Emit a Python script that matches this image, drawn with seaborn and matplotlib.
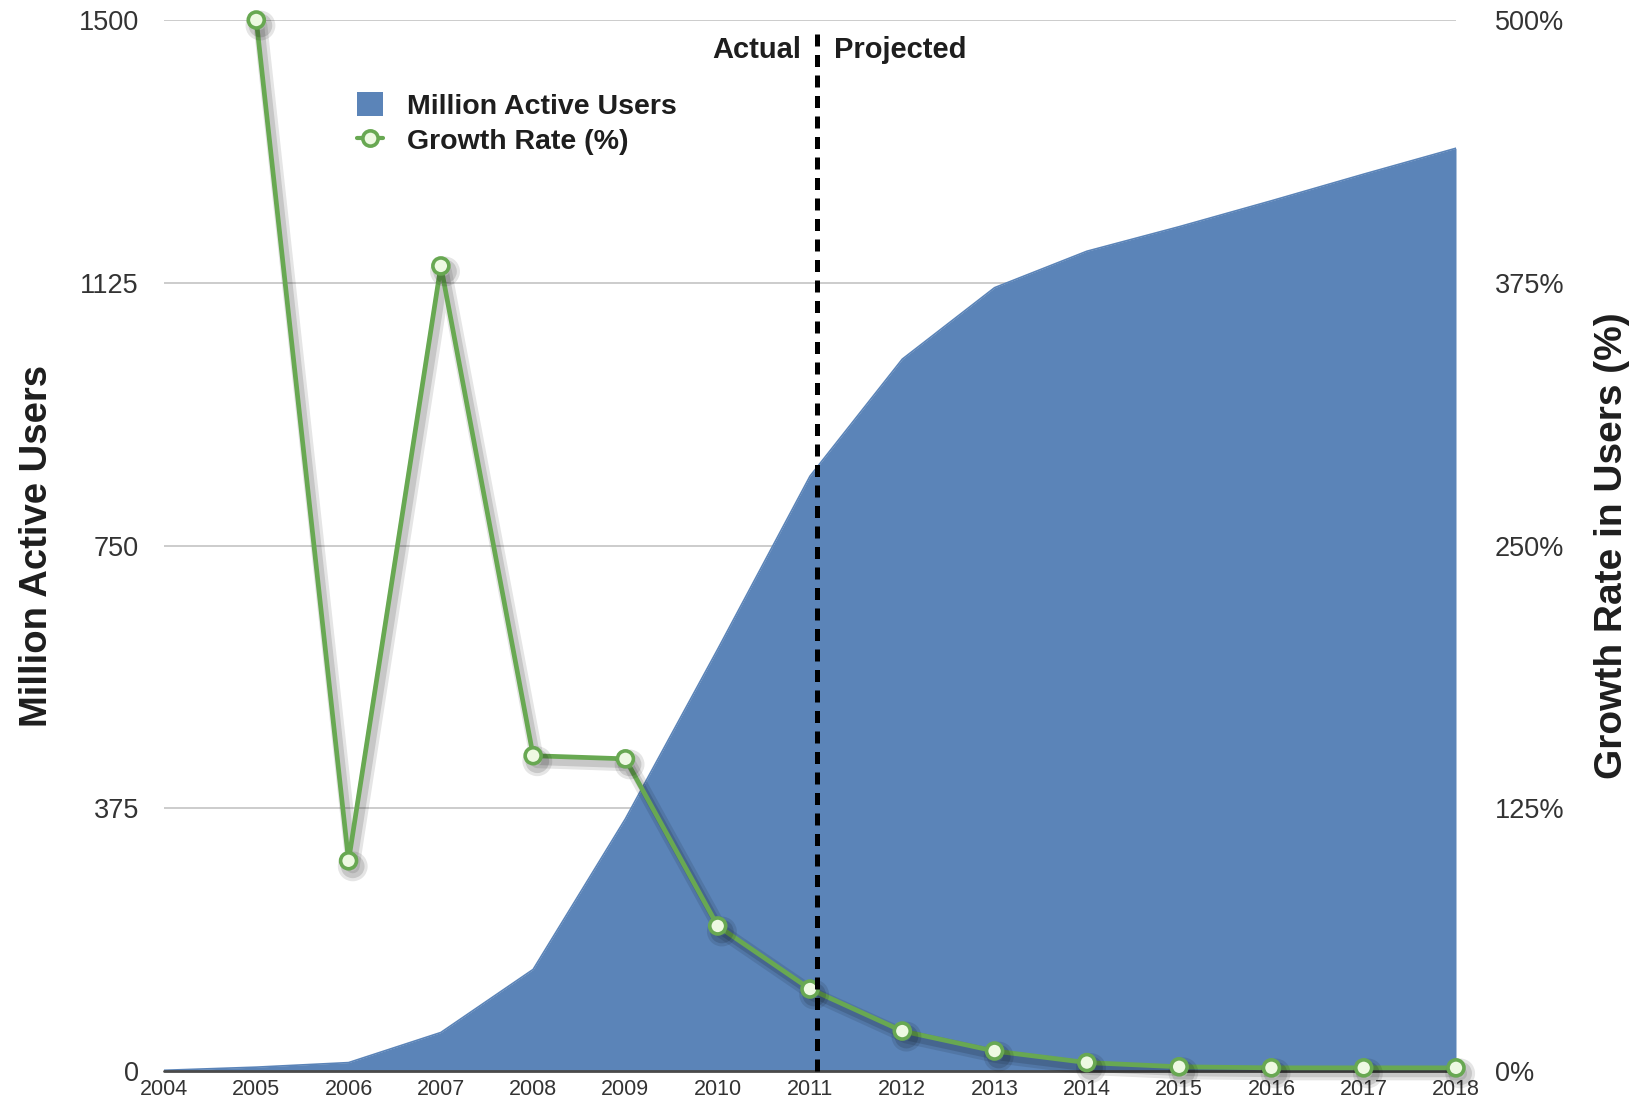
import matplotlib
matplotlib.use("Agg")
import matplotlib.pyplot as plt
import matplotlib.patheffects as pe
from matplotlib.lines import Line2D
from matplotlib.patches import Patch
import pandas as pd
import seaborn as sns

# ---- data -------------------------------------------------------------
years = [2004, 2005, 2006, 2007, 2008, 2009, 2010, 2011,
         2012, 2013, 2014, 2015, 2016, 2017, 2018]
active_users = [1, 5.5, 12, 55, 145, 360, 602, 849,
                1016, 1118, 1170, 1205, 1242, 1280, 1317]

growth_years = [2005, 2006, 2007, 2008, 2009, 2010, 2011,
                2012, 2013, 2014, 2015, 2016, 2017, 2018]
growth_rate = [500, 100, 383, 150, 148.5, 69, 39,
               19, 9.5, 4, 2, 1.5, 1.5, 1.5]

user_ticks = [0, 375, 750, 1125, 1500]
growth_ticks = [0, 125, 250, 375, 500]
split_year = 2011.08

# ---- style ------------------------------------------------------------
AREA = "#5b84b8"
GREEN = "#68a852"
MARKER_FACE = "#eef9e2"
TEXT = "#1e1e1e"
TICK = "#333333"

sns.set_theme(style="white")
plt.rcParams["font.family"] = ["Liberation Sans", "DejaVu Sans"]

W, H = 1641, 1111
fig = plt.figure(figsize=(W / 100, H / 100), dpi=100)
ax = fig.add_axes([164 / W, 1 - 1071 / H, (1456 - 164) / W, (1071 - 20) / H])

df_users = pd.DataFrame({"year": years, "users": active_users})
df_growth = pd.DataFrame({"year": growth_years, "growth": growth_rate})

# area of active users
ax.fill_between(df_users["year"], df_users["users"], 0,
                color=AREA, lw=0, zorder=2)
sns.lineplot(data=df_users, x="year", y="users", ax=ax,
             color=AREA, lw=1.2, zorder=2)

ax.set_xlim(2004, 2018)
ax.set_ylim(0, 1500)
ax.set_xticks(years)
ax.set_xticklabels([str(y) for y in years])
ax.set_yticks(user_ticks)
ax.set_yticklabels([str(t) for t in user_ticks])
ax.set_xlabel("")
ax.set_ylabel("")
ax.yaxis.grid(True, color="#c8c8c8", lw=1.3)
ax.xaxis.grid(False)
ax.set_axisbelow(True)
for s in ax.spines.values():
    s.set_visible(False)
ax.axhline(0, color="#4a4a4a", lw=2, zorder=3, clip_on=False)
ax.tick_params(axis="y", length=0, pad=18, labelsize=19.5, labelcolor=TICK)
ax.tick_params(axis="x", length=0, pad=6, labelsize=15.5, labelcolor=TICK)

# growth rate on the secondary axis
ax2 = ax.twinx()
ax2.set_ylim(0, 500)
ax2.set_yticks(growth_ticks)
ax2.set_yticklabels([f"{t}%" for t in growth_ticks])
ax2.grid(False)
for s in ax2.spines.values():
    s.set_visible(False)
ax2.tick_params(axis="y", length=0, pad=28, labelsize=19.5, labelcolor=TICK)

line_shadow = [
    pe.SimpleLineShadow(offset=(3, -4), shadow_color="black", alpha=0.10, linewidth=10),
    pe.SimpleLineShadow(offset=(3, -4), shadow_color="black", alpha=0.13, linewidth=5.5),
    pe.Normal(),
]
sns.lineplot(data=df_growth, x="year", y="growth", ax=ax2,
             color=GREEN, lw=3.4, marker="o", markersize=11.5,
             markerfacecolor=MARKER_FACE, markeredgecolor=GREEN,
             markeredgewidth=2.6, clip_on=False, zorder=5,
             path_effects=line_shadow)
ax2.set_xlabel("")
ax2.set_ylabel("")

# actual / projected divider
ax2.plot([split_year, split_year], [0, 495.5], color="black", lw=3.6,
         dashes=(2.4, 1.7), zorder=6, clip_on=False)
ax2.text(split_year - 0.17, 485.7, "Actual", ha="right", va="center",
         fontsize=21, fontweight="bold", color=TEXT, zorder=7)
ax2.text(split_year + 0.18, 485.7, "Projected", ha="left", va="center",
         fontsize=21, fontweight="bold", color=TEXT, zorder=7)

# legend
handles = [
    Patch(facecolor=AREA, edgecolor="none", label="Million Active Users"),
    Line2D([], [], color=GREEN, lw=3, marker="o", markersize=11,
           markerfacecolor=MARKER_FACE, markeredgecolor=GREEN,
           markeredgewidth=2.6, label="Growth Rate (%)"),
]
leg = ax2.legend(handles=handles, loc="upper left",
                 bbox_to_anchor=((357 - 164) / 1292, (1071 - 92) / 1051),
                 frameon=False, borderpad=0, borderaxespad=0,
                 handlelength=0.9, handleheight=0.9, handletextpad=0.85,
                 labelspacing=0.28,
                 prop={"size": 20.5, "weight": "bold"})
for t in leg.get_texts():
    t.set_color(TEXT)

# axis titles
fig.text(37 / W, 1 - 546 / H, "Million Active Users", rotation=90,
         ha="center", va="center", fontsize=27.5, fontweight="bold", color=TEXT)
fig.text(1612 / W, 1 - 546 / H, "Growth Rate in Users (%)", rotation=90,
         ha="center", va="center", fontsize=28, fontweight="bold", color=TEXT)

fig.savefig("out.png", dpi=100)
